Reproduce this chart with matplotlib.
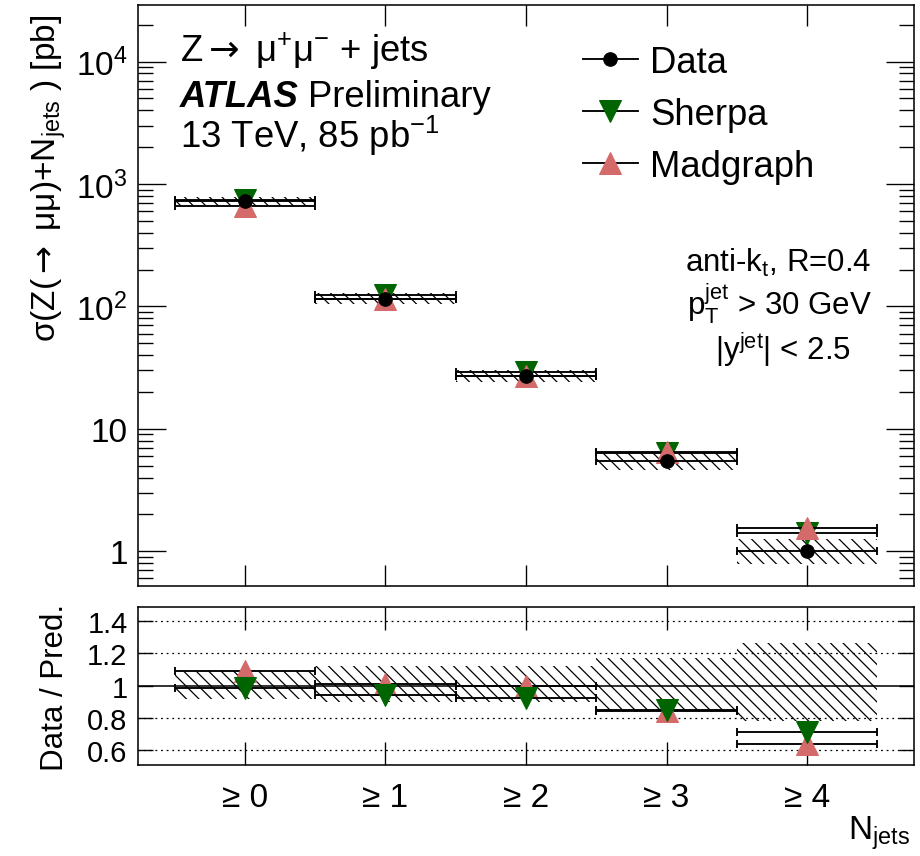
import numpy as np
import matplotlib
matplotlib.use('Agg')
import matplotlib.pyplot as plt
from matplotlib.lines import Line2D
from matplotlib.ticker import FixedLocator, FixedFormatter, NullFormatter, LogLocator

plt.rcParams['font.family'] = ['Liberation Sans', 'DejaVu Sans']
plt.rcParams['mathtext.fontset'] = 'custom'
plt.rcParams['mathtext.rm'] = 'Liberation Sans'
plt.rcParams['mathtext.it'] = 'Liberation Sans:italic'
plt.rcParams['mathtext.bf'] = 'Liberation Sans:bold'
plt.rcParams['mathtext.sf'] = 'DejaVu Sans'
plt.rcParams['hatch.color'] = 'black'
plt.rcParams['hatch.linewidth'] = 1.2

# inclusive jet multiplicity bins
njets = np.array([0, 1, 2, 3, 4])
njet_labels = ['≥ 0', '≥ 1', '≥ 2', '≥ 3', '≥ 4']

# cross sections [pb]
data = np.array([725.0, 116.0, 27.0, 5.45, 1.0])
data_stat = np.array([3.0, 1.2, 0.5, 0.15, 0.06])
sherpa = np.array([735.0, 123.0, 29.2, 6.4, 1.40])
madgraph = np.array([665.0, 115.0, 27.1, 6.45, 1.56])

# relative total uncertainty on data (up / down)
rel_up = np.array([0.09, 0.12, 0.12, 0.17, 0.26])
rel_dn = np.array([0.08, 0.10, 0.10, 0.16, 0.22])

ratio_sherpa = data / sherpa
ratio_madgraph = data / madgraph

green = '#006400'
red = '#d46a6a'
W, H = 920, 857
fig = plt.figure(figsize=(W / 75, H / 75), dpi=75)
ax = fig.add_axes([138 / W, 1 - 587 / H, (914 - 138) / W, (587 - 6) / H])
rax = fig.add_axes([138 / W, 1 - 766 / H, (914 - 138) / W, (766 - 608) / H])

fs = 32
lw = 1.8
arrow = r'$\mathsf{\rightarrow}$'

# ---- top panel ----
ax.bar(njets, data * (rel_up + rel_dn), bottom=data * (1 - rel_dn), width=1.0,
       fill=False, hatch='\\\\', edgecolor='black', linewidth=0, zorder=1)
ax.errorbar(njets, sherpa, xerr=0.5, fmt='v', color=green, ms=22, ecolor='black',
            elinewidth=lw, capsize=4, capthick=lw, zorder=2)
ax.errorbar(njets, madgraph, xerr=0.5, fmt='^', color=red, ms=22, ecolor='black',
            elinewidth=lw, capsize=4, capthick=lw, zorder=3)
ax.errorbar(njets, data, xerr=0.5, yerr=data_stat, fmt='o', color='black', ms=13,
            elinewidth=lw, capsize=4, capthick=lw, zorder=4)

ax.set_yscale('log')
ax.set_xlim(-0.76, 4.76)
ax.set_ylim(0.52, 2.9e4)
ax.yaxis.set_major_locator(FixedLocator([1, 10, 100, 1000, 10000]))
ax.yaxis.set_major_formatter(FixedFormatter(['1', '10', '$10^{2}$', '$10^{3}$', '$10^{4}$']))
ax.yaxis.set_minor_locator(LogLocator(base=10, subs=np.arange(2, 10), numticks=20))
ax.yaxis.set_minor_formatter(NullFormatter())
ax.set_xticks(njets)
ax.set_xticklabels([])
ax.tick_params(axis='y', which='major', direction='in', length=27, width=1.3,
               left=True, right=True, labelsize=fs, pad=10)
ax.tick_params(axis='y', which='minor', direction='in', length=14, width=1.3,
               left=True, right=True)
ax.tick_params(axis='x', which='major', direction='in', length=20, width=1.3,
               top=True, bottom=True)
ax.tick_params(axis='x', which='minor', bottom=False, top=False)
for s in ax.spines.values():
    s.set_linewidth(1.5)

ax.set_ylabel(r'σ(Z(' + arrow + r' μμ)+N$_{\mathrm{jets}}$ ) [pb]', fontsize=fs, ha='right')
ax.yaxis.set_label_coords(-0.09, 0.985)

fig.text(180 / W, 1 - 62 / H, r'Z' + arrow + r' μ$^{+}$μ$^{-}$ + jets', fontsize=35)
fig.text(180 / W, 1 - 107 / H, 'ATLAS', fontsize=35, weight='bold', style='italic')
fig.text(308 / W, 1 - 107 / H, 'Preliminary', fontsize=35)
fig.text(180 / W, 1 - 148 / H, r'13 TeV, 85 pb$^{-1}$', fontsize=35)

fig.text(778 / W, 1 - 272 / H, r'anti-k$_{\mathrm{t}}$, R=0.4', fontsize=30, ha='center')
fig.text(780 / W, 1 - 316 / H, r'$\mathrm{p}_{\mathrm{T}}^{\mathrm{jet}}$ > 30 GeV', fontsize=30, ha='center')
fig.text(783 / W, 1 - 360 / H, r'|y$^{\mathrm{jet}}$| < 2.5', fontsize=30, ha='center')

handles = [
    Line2D([], [], color='black', lw=lw, marker='o', ms=13, mfc='black', mec='black'),
    Line2D([], [], color='black', lw=lw, marker='v', ms=22, mfc=green, mec=green),
    Line2D([], [], color='black', lw=lw, marker='^', ms=22, mfc=red, mec=red),
]
fig.legend(handles, ['Data', 'Sherpa', 'Madgraph'], loc='upper left',
           bbox_to_anchor=(583 / W, 1 - 46 / H), frameon=False, fontsize=35,
           handlelength=1.5, handletextpad=0.35, labelspacing=0.46,
           borderpad=0, borderaxespad=0)

# ---- ratio panel ----
rax.bar(njets, rel_up + rel_dn, bottom=1 - rel_dn, width=1.0, fill=False,
        hatch='\\\\', edgecolor='black', linewidth=0, zorder=1)
for yv in [0.6, 0.8, 1.2, 1.4]:
    rax.axhline(yv, color='black', ls=(0, (1.5, 3)), lw=1.2, zorder=0)
rax.axhline(1.0, color='black', lw=1.5, zorder=1)
rax.errorbar(njets, ratio_madgraph, xerr=0.5, fmt='^', color=red, ms=22, ecolor='black',
             elinewidth=lw, capsize=4, capthick=lw, zorder=2)
rax.errorbar(njets, ratio_sherpa, xerr=0.5, fmt='v', color=green, ms=22, ecolor='black',
             elinewidth=lw, capsize=4, capthick=lw, zorder=3)

rax.set_xlim(-0.76, 4.76)
rax.set_ylim(0.51, 1.485)
rax.set_yticks([0.6, 0.8, 1.0, 1.2, 1.4])
rax.set_yticklabels(['0.6', '0.8', '1', '1.2', '1.4'])
rax.set_xticks(njets)
rax.set_xticklabels(njet_labels)
rax.tick_params(axis='y', direction='in', length=14, width=1.3, left=True, right=True,
                labelsize=28, pad=10)
rax.tick_params(axis='x', direction='in', length=22, width=1.3, top=True, bottom=True,
                labelsize=fs, pad=16)
for s in rax.spines.values():
    s.set_linewidth(1.5)
rax.set_ylabel('Data / Pred.', fontsize=30)
rax.yaxis.set_label_coords(-0.088, 0.5)

fig.text(910 / W, 1 - 840 / H, r'N$_{\mathrm{jets}}$', fontsize=fs, ha='right')

fig.savefig('out.png', dpi=75)
